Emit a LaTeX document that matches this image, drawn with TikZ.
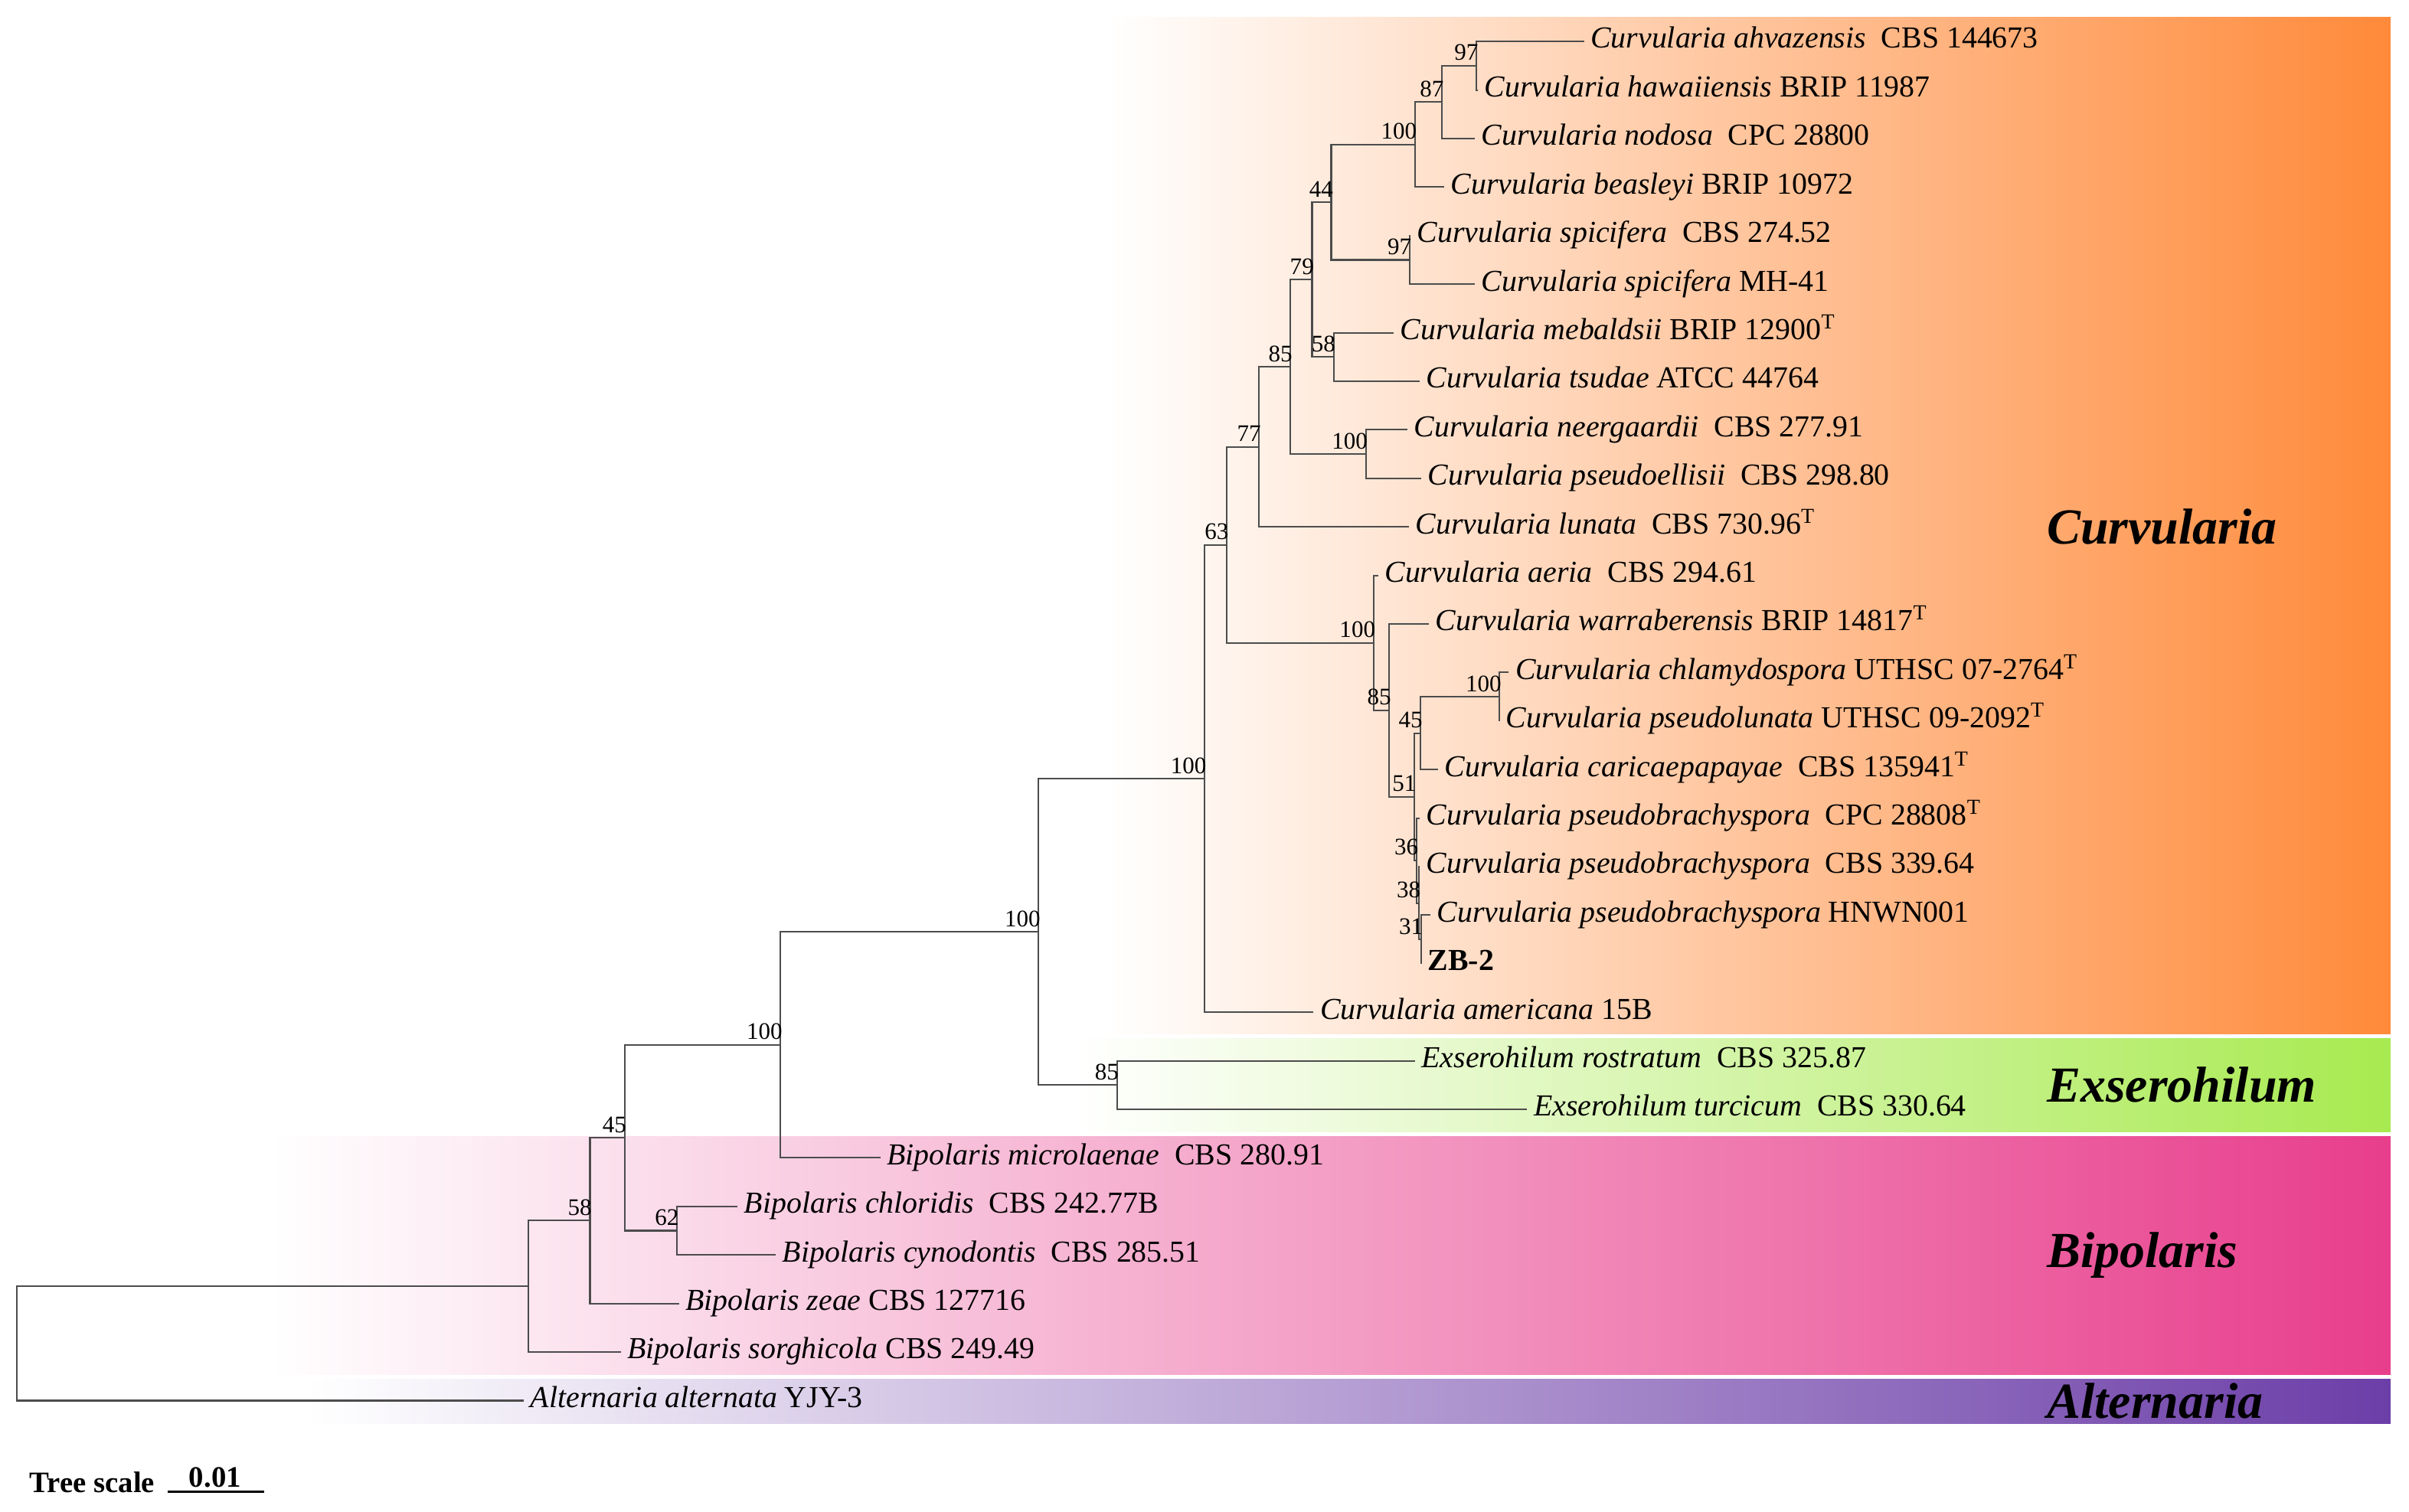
\documentclass[tikz,border=0pt]{standalone}
\usepackage{fontspec}
\setmainfont{Liberation Serif}
\definecolor{curvC}{RGB}{255,138,58}
\definecolor{exsC}{RGB}{168,234,80}
\definecolor{bipC}{RGB}{232,62,140}
\definecolor{altC}{RGB}{108,62,168}

\begin{document}
\begin{tikzpicture}[x=0.2mm,y=-0.2mm,
    br/.style={draw=black!70,line width=0.6pt},
    leaf/.style={anchor=west,inner xsep=0.8mm,inner ysep=0pt,text height=7pt,text depth=2pt,
                 font=\fontsize{11.3}{13}\selectfont},
    bs/.style={anchor=south east,inner xsep=0pt,inner ysep=0.6mm,xshift=0.3mm,
               font=\fontsize{8.8}{10}\selectfont},
    clade/.style={anchor=west,inner sep=0pt,font=\fontsize{18.7}{20}\selectfont\bfseries\itshape}]
  \useasboundingbox (0,0) rectangle (1568,984);

  % clade bands
  \shade[left color=white,middle color=curvC!45,right color=curvC] (720,11) rectangle (1556,673);
  \shade[left color=white,middle color=exsC!32,right color=exsC] (700,676) rectangle (1556,737);
  \shade[left color=white,middle color=bipC!30,right color=bipC] (175,740) rectangle (1556,895);
  \shade[left color=white,middle color=altC!27,right color=altC] (200,898) rectangle (1556,927);

  \node[clade] (curv) at (1332,343) {Curvularia};
  \node[clade] (exs)  at (1332,706) {Exserohilum};
  \node[clade] (bip)  at (1332,817) {Bipolaris};
  \node[clade] (alt)  at (1332,912) {Alternaria};

  % leaves
  \node[leaf] (l1)  at (1031,27)    {\textit{Curvularia ahvazensis}~~CBS 144673};
  \node[leaf] (l2)  at (962,58.6)   {\textit{Curvularia hawaiiensis} BRIP 11987};
  \node[leaf] (l3)  at (960,90.2)   {\textit{Curvularia nodosa}~~CPC 28800};
  \node[leaf] (l4)  at (940,121.8)  {\textit{Curvularia beasleyi} BRIP 10972};
  \node[leaf] (l5)  at (918,153.4)  {\textit{Curvularia spicifera}~~CBS 274.52};
  \node[leaf] (l6)  at (960,185)    {\textit{Curvularia spicifera} MH-41};
  \node[leaf] (l7)  at (907,216.6)  {\textit{Curvularia mebaldsii} BRIP 12900\textsuperscript{T}};
  \node[leaf] (l8)  at (924,248.2)  {\textit{Curvularia tsudae} ATCC 44764};
  \node[leaf] (l9)  at (916,279.8)  {\textit{Curvularia neergaardii}~~CBS 277.91};
  \node[leaf] (l10) at (925,311.4)  {\textit{Curvularia pseudoellisii}~~CBS 298.80};
  \node[leaf] (l11) at (917,343)    {\textit{Curvularia lunata}~~CBS 730.96\textsuperscript{T}};
  \node[leaf] (l12) at (897,374.6)  {\textit{Curvularia aeria}~~CBS 294.61};
  \node[leaf] (l13) at (930,406.2)  {\textit{Curvularia warraberensis} BRIP 14817\textsuperscript{T}};
  \node[leaf] (l14) at (982,437.8)  {\textit{Curvularia chlamydospora} UTHSC 07-2764\textsuperscript{T}};
  \node[leaf] (l15) at (976,469.4)  {\textit{Curvularia pseudolunata} UTHSC 09-2092\textsuperscript{T}};
  \node[leaf] (l16) at (936,501)    {\textit{Curvularia caricaepapayae}~~CBS 135941\textsuperscript{T}};
  \node[leaf] (l17) at (924,532.6)  {\textit{Curvularia pseudobrachyspora}~~CPC 28808\textsuperscript{T}};
  \node[leaf] (l18) at (924,564.2)  {\textit{Curvularia pseudobrachyspora}~~CBS 339.64};
  \node[leaf] (l19) at (931,595.8)  {\textit{Curvularia pseudobrachyspora} HNWN001};
  \node[leaf] (l20) at (925,627.4)  {\textbf{ZB-2}};
  \node[leaf] (l21) at (855,659)    {\textit{Curvularia americana} 15B};
  \node[leaf] (l22) at (921,690.6)  {\textit{Exserohilum rostratum}~~CBS 325.87};
  \node[leaf] (l23) at (994,722.2)  {\textit{Exserohilum turcicum}~~CBS 330.64};
  \node[leaf] (l24) at (573,753.8)  {\textit{Bipolaris microlaenae}~~CBS 280.91};
  \node[leaf] (l25) at (480,785.4)  {\textit{Bipolaris chloridis}~~CBS 242.77B};
  \node[leaf] (l26) at (505,817)    {\textit{Bipolaris cynodontis}~~CBS 285.51};
  \node[leaf] (l27) at (442,848.6)  {\textit{Bipolaris zeae} CBS 127716};
  \node[leaf] (l28) at (404,880.2)  {\textit{Bipolaris sorghicola} CBS 249.49};
  \node[leaf] (l29) at (341,911.8)  {\textit{Alternaria alternata} YJY-3};

  % internal nodes
  \coordinate (root) at (11,874.6);
  \coordinate (nA)  at (344,837.4);
  \coordinate (nB)  at (384,794.6);
  \coordinate (nC)  at (406.5,740.7);
  \coordinate (nD)  at (508,680.2);
  \coordinate (nE)  at (440.6,801.2);
  \coordinate (nF)  at (676,606.6);
  \coordinate (nG)  at (784,506.9);
  \coordinate (nH)  at (727,706.4);
  \coordinate (nI)  at (798.5,354.7);
  \coordinate (nJ)  at (819.5,290.9);
  \coordinate (nK)  at (894,418.5);
  \coordinate (nL)  at (840,238.8);
  \coordinate (nM)  at (854,182);
  \coordinate (nN)  at (889,295.6);
  \coordinate (nP)  at (866.5,131.7);
  \coordinate (nQ)  at (868,232.4);
  \coordinate (nR)  at (921,94.2);
  \coordinate (nS)  at (917.5,169.2);
  \coordinate (nT)  at (938.5,66.5);
  \coordinate (nU)  at (961,42.8);
  \coordinate (nV)  at (904.3,462.5);
  \coordinate (nW)  at (920.6,518.8);
  \coordinate (nX)  at (924.7,477.3);
  \coordinate (nY)  at (976,453.6);
  \coordinate (nZ)  at (922,560.2);
  \coordinate (nAA) at (923.5,587.9);
  \coordinate (nAB) at (925,611.6);

  % branches
  \foreach \c/\p in {l1/nU,l2/nU,nU/nT,l3/nT,nT/nR,l4/nR,nR/nP,l5/nS,l6/nS,nS/nP,
                     nP/nM,l7/nQ,l8/nQ,nQ/nM,nM/nL,l9/nN,l10/nN,nN/nL,nL/nJ,l11/nJ,
                     nJ/nI,l12/nK,l13/nV,l14/nY,l15/nY,nY/nX,l16/nX,nX/nW,
                     l19/nAB,l20/nAB,l18/nAA,nAB/nAA,l17/nZ,nAA/nZ,nZ/nW,nW/nV,
                     nV/nK,nK/nI,nI/nG,l21/nG,nG/nF,l22/nH,l23/nH,nH/nF,nF/nD,
                     l24/nD,nD/nC,l25/nE,l26/nE,nE/nC,nC/nB,l27/nB,nB/nA,l28/nA,
                     nA/root,l29/root}
    \draw[br] (\c) -| (\p);

  % bootstrap values
  \foreach \n/\v in {nU/97,nT/87,nR/100,nS/97,nP/44,nQ/58,nM/79,nN/100,nL/85,nJ/77,
                     nI/63,nK/100,nV/85,nY/100,nX/45,nW/51,nZ/36,nAA/38,nAB/31,
                     nG/100,nH/85,nF/100,nD/100,nE/62,nC/45,nB/58}
    \node[bs] at (\n) {\v};

  % tree scale
  \node[anchor=base west,inner sep=0pt,font=\fontsize{11}{13}\selectfont\bfseries] (tscale) at (19,971.5) {Tree scale};
  \coordinate (sc1) at (109,971.3);
  \coordinate (sc2) at (172,971.3);
  \draw[line width=0.8pt] (sc1) -- (sc2);
  \node[anchor=base,inner sep=0pt,font=\fontsize{11}{13}\selectfont\bfseries] (sval) at (140,968) {0.01};
\end{tikzpicture}
\end{document}
